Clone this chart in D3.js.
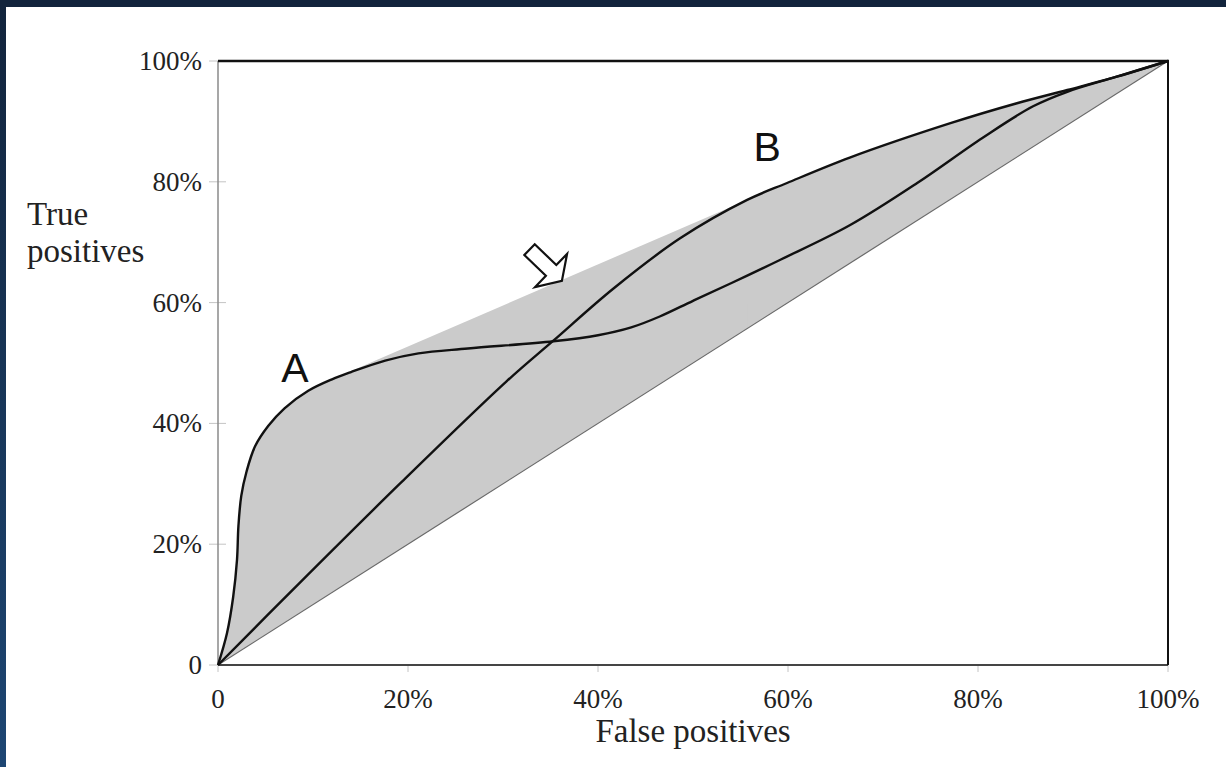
<!DOCTYPE html>
<html>
<head>
<meta charset="utf-8">
<script src="https://cdn.jsdelivr.net/npm/d3@7/dist/d3.min.js"></script>
<style>
  html, body { margin: 0; padding: 0; background: #ffffff; }
  svg { display: block; }
</style>
</head>
<body>
<svg id="chart" width="1226" height="767"></svg>
<script>
// ---------------- data ----------------
const xTicks = [0, 20, 40, 60, 80, 100];
const xTickLabels = ["0", "20%", "40%", "60%", "80%", "100%"];
const yTicks = [0, 20, 40, 60, 80, 100];
const yTickLabels = ["0", "20%", "40%", "60%", "80%", "100%"];

// Curve A (false positive rate %, true positive rate %)
const curveA_fpr = [0, 0.95, 1.6, 2.0, 2.15, 2.45, 3.0, 3.9, 5.3, 7.0, 9.5, 12.0, 14.0, 17.6, 21.1, 26.3, 35.3, 40.0, 43.5, 46.5, 50.0, 54.0, 59.2, 66.5, 73.6, 80.5, 85.8, 89.4, 94.6, 100];
const curveA_tpr = [0, 5.3, 11.3, 17.4, 23.0, 28.0, 32.0, 36.2, 39.6, 42.5, 45.4, 47.3, 48.5, 50.4, 51.6, 52.4, 53.6, 54.6, 55.9, 57.7, 60.3, 63.2, 67.1, 72.8, 79.8, 87.3, 92.5, 94.9, 97.4, 100];

// Curve B
const curveB_fpr = [0, 8.6, 19.2, 30.4, 35.3, 41.6, 48.6, 55.7, 59.9, 66.5, 77.1, 84.1, 89.4, 94.6, 100];
const curveB_tpr = [0, 13.6, 30.1, 47.0, 53.7, 62.3, 70.6, 77.0, 79.8, 84.0, 89.7, 93.0, 95.2, 97.4, 100];

const curveNames = ["A", "B"];
const xAxisTitle = "False positives";
const yAxisTitle = ["True", "positives"];

// ---------------- layout ----------------
const W = 1226, H = 767;
const plot = { left: 218, right: 1168, top: 61, bottom: 665 };

const svg = d3.select("#chart");

// dark frame strips of the original picture
const defs = svg.append("defs");
const grad = defs.append("linearGradient").attr("id", "navy").attr("x1", 0).attr("y1", 0).attr("x2", 0).attr("y2", 1);
grad.append("stop").attr("offset", "0%").attr("stop-color", "#12243c");
grad.append("stop").attr("offset", "100%").attr("stop-color", "#1d4673");
svg.append("rect").attr("x", 0).attr("y", 0).attr("width", W).attr("height", H).attr("fill", "#ffffff");
svg.append("rect").attr("x", 0).attr("y", 0).attr("width", 6).attr("height", H).attr("fill", "url(#navy)");
svg.append("rect").attr("x", 0).attr("y", 0).attr("width", W).attr("height", 7).attr("fill", "#12243c");

const x = d3.scaleLinear().domain([0, 100]).range([plot.left, plot.right]);
const y = d3.scaleLinear().domain([0, 100]).range([plot.bottom, plot.top]);

const ptsA = curveA_fpr.map((f, i) => { const p = [f, curveA_tpr[i]]; p.curve = "A"; return p; });
const ptsB = curveB_fpr.map((f, i) => { const p = [f, curveB_tpr[i]]; p.curve = "B"; return p; });

const crv = d3.curveCatmullRom.alpha(0.5);
const shadeColor = "#cbcbcb";
const line = d3.line().x(d => x(d[0])).y(d => y(d[1])).curve(crv);

// region between each curve and the chance diagonal (curve path closed back along the diagonal)
const g = svg.append("g");
g.append("path").attr("d", line(ptsA) + "Z").attr("fill", shadeColor);
g.append("path").attr("d", line(ptsB) + "Z").attr("fill", shadeColor);

// convex hull bridge between curves
const hullInput = ptsA.slice(1, -1).concat(ptsB.slice(1, -1));
const origin = [0, 0]; origin.curve = "O";
const corner = [100, 100]; corner.curve = "O";
hullInput.push(origin, corner);
const hull = d3.polygonHull(hullInput);
let bridge = null, best = 0;
for (let i = 0; i < hull.length; i++) {
  const p = hull[i], q = hull[(i + 1) % hull.length];
  if ((p.curve === "A" && q.curve === "B") || (p.curve === "B" && q.curve === "A")) {
    const len = Math.hypot(q[0] - p[0], q[1] - p[1]);
    if (len > best) { best = len; bridge = p[0] < q[0] ? [p, q] : [q, p]; }
  }
}
if (bridge) {
  const [p, q] = bridge;
  const quad = [[p[0], p[1]], [q[0], q[1]], [q[0], q[0]], [p[0], p[0]]];
  g.append("path")
    .attr("d", "M" + quad.map(d => x(d[0]) + "," + y(d[1])).join("L") + "Z")
    .attr("fill", shadeColor);
}

// diagonal (chance line)
svg.append("line")
  .attr("x1", x(0)).attr("y1", y(0)).attr("x2", x(100)).attr("y2", y(100))
  .attr("stroke", "#6a6a6a").attr("stroke-width", 1.2);

// tick marks
svg.selectAll(".ytick").data(yTicks).enter().append("line")
  .attr("x1", plot.left - 9).attr("x2", plot.left + 8)
  .attr("y1", d => y(d)).attr("y2", d => y(d))
  .attr("stroke", "#c4c4c4").attr("stroke-width", 1);
svg.selectAll(".xtick").data(xTicks).enter().append("line")
  .attr("x1", d => x(d)).attr("x2", d => x(d))
  .attr("y1", plot.bottom).attr("y2", plot.bottom + 7)
  .attr("stroke", "#c4c4c4").attr("stroke-width", 1);

// frame
svg.append("line").attr("x1", plot.left).attr("x2", plot.left).attr("y1", plot.top).attr("y2", plot.bottom)
  .attr("stroke", "#8a8a8a").attr("stroke-width", 1.5);
svg.append("line").attr("x1", plot.left).attr("x2", plot.right).attr("y1", plot.bottom).attr("y2", plot.bottom)
  .attr("stroke", "#454545").attr("stroke-width", 2.2);
svg.append("line").attr("x1", plot.right).attr("x2", plot.right).attr("y1", plot.top - 1).attr("y2", plot.bottom)
  .attr("stroke", "#111").attr("stroke-width", 2);
svg.append("line").attr("x1", plot.left).attr("x2", plot.right + 1).attr("y1", plot.top).attr("y2", plot.top)
  .attr("stroke", "#111").attr("stroke-width", 2.6);

// curves
svg.append("path").datum(ptsA).attr("d", line).attr("fill", "none").attr("stroke", "#111").attr("stroke-width", 2.4);
svg.append("path").datum(ptsB).attr("d", line).attr("fill", "none").attr("stroke", "#111").attr("stroke-width", 2.4);

// tick labels
const serif = "'Liberation Serif', 'Times New Roman', serif";
svg.selectAll(".ylab").data(yTicks).enter().append("text")
  .attr("x", plot.left - 16).attr("y", d => y(d)).attr("dy", "0.33em")
  .attr("text-anchor", "end").attr("font-family", serif).attr("font-size", 27).attr("fill", "#222")
  .text((d, i) => yTickLabels[i]);
svg.selectAll(".xlab").data(xTicks).enter().append("text")
  .attr("x", d => x(d)).attr("y", plot.bottom + 43)
  .attr("text-anchor", "middle").attr("font-family", serif).attr("font-size", 27).attr("fill", "#222")
  .text((d, i) => xTickLabels[i]);

// axis titles
svg.append("text").attr("x", (plot.left + plot.right) / 2).attr("y", 742)
  .attr("text-anchor", "middle").attr("font-family", serif).attr("font-size", 33).attr("fill", "#222")
  .text(xAxisTitle);
svg.append("text").attr("x", 27).attr("y", 225).attr("font-family", serif).attr("font-size", 33).attr("fill", "#222")
  .text(yAxisTitle[0]);
svg.append("text").attr("x", 27).attr("y", 262).attr("font-family", serif).attr("font-size", 33).attr("fill", "#222")
  .text(yAxisTitle[1]);

// curve labels
const sans = "'Liberation Sans', Arial, sans-serif";
svg.append("text").attr("x", x(8.1)).attr("y", y(49.3)).attr("dy", "0.36em")
  .attr("text-anchor", "middle").attr("font-family", sans).attr("font-size", 41).attr("fill", "#111")
  .text(curveNames[0]);
svg.append("text").attr("x", x(57.8)).attr("y", y(85.9)).attr("dy", "0.36em")
  .attr("text-anchor", "middle").attr("font-family", sans).attr("font-size", 41).attr("fill", "#111")
  .text(curveNames[1]);

// hollow arrow pointing at the hull segment
const tip = [x(36.2), y(63.6)];
const shaftW = 15, shaftL = 30, headW = 46, headL = 15;
const arrowPts = [
  [-(shaftL + headL), -shaftW / 2], [-headL, -shaftW / 2], [-headL, -headW / 2], [0, 0],
  [-headL, headW / 2], [-headL, shaftW / 2], [-(shaftL + headL), shaftW / 2]
];
svg.append("path")
  .attr("d", "M" + arrowPts.map(p => p.join(",")).join("L") + "Z")
  .attr("transform", `translate(${tip[0]},${tip[1]}) rotate(44)`)
  .attr("fill", "#fff").attr("stroke", "#111").attr("stroke-width", 2.2).attr("stroke-linejoin", "miter");
</script>
</body>
</html>
